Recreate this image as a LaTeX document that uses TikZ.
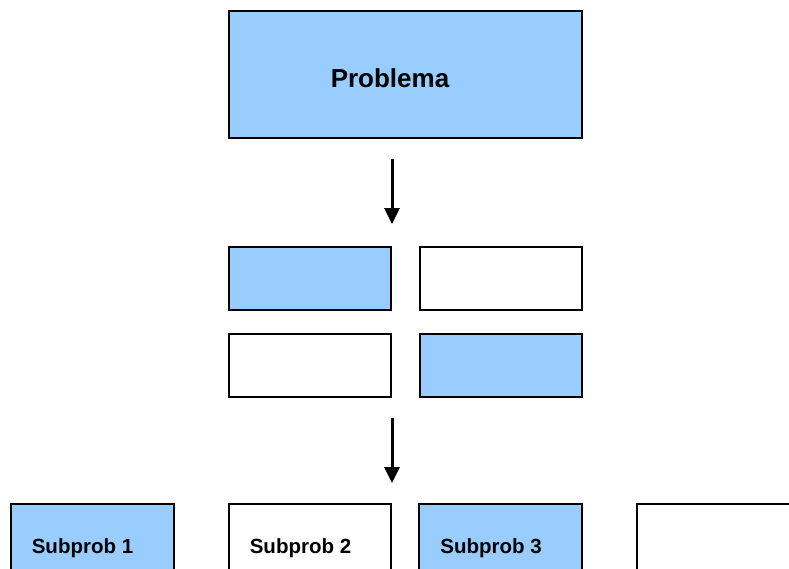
\documentclass[tikz,border=0pt]{standalone}
\usepackage{fontspec}
\setmainfont{Liberation Sans}
\usetikzlibrary{arrows.meta}
\definecolor{lblue}{HTML}{99CCFF}
\begin{document}
\begin{tikzpicture}[x=1pt,y=-1pt,
  box/.style={draw=black, line width=2pt, inner sep=0pt, outer sep=0pt},
  bluebox/.style={box, fill=lblue},
  whitebox/.style={box, fill=white},
  lbl/.style={font=\bfseries\fontsize{20.5}{24}\selectfont, inner sep=0pt},
  arr/.style={line width=3pt, -{Triangle[length=16pt,width=15pt]}}]
\useasboundingbox (0,0) rectangle (789,568);
\clip (0,0) rectangle (789,568);
% top
\node[bluebox, minimum width=353pt, minimum height=127pt] (prob) at (405.5,74) {};
\node[lbl, font=\bfseries\fontsize{26}{30}\selectfont] (probt) at (390,78) {Problema};
% arrow 1
\coordinate (a1s) at (392,159);
\coordinate (a1e) at (392,224);
\draw[arr] (a1s) -- (a1e);
% grid
\node[bluebox, minimum width=162pt, minimum height=63pt] (g11) at (310,278.5) {};
\node[whitebox, minimum width=162pt, minimum height=63pt] (g12) at (501,278.5) {};
\node[whitebox, minimum width=162pt, minimum height=63pt] (g21) at (310,365.5) {};
\node[bluebox, minimum width=162pt, minimum height=63pt] (g22) at (501,365.5) {};
% arrow 2
\coordinate (a2s) at (392,418);
\coordinate (a2e) at (392,483);
\draw[arr] (a2s) -- (a2e);
% bottom
\node[bluebox, minimum width=163pt, minimum height=100pt] (s1) at (92.5,554) {};
\node[whitebox, minimum width=162pt, minimum height=100pt] (s2) at (310,554) {};
\node[bluebox, minimum width=163pt, minimum height=100pt] (s3) at (500.5,554) {};
\node[whitebox, minimum width=180pt, minimum height=100pt] (s4) at (727,554) {};
\node[lbl] (s1t) at (82.5,548) {Subprob 1};
\node[lbl] (s2t) at (300.5,548) {Subprob 2};
\node[lbl] (s3t) at (491,548) {Subprob 3};
\end{tikzpicture}
\end{document}
